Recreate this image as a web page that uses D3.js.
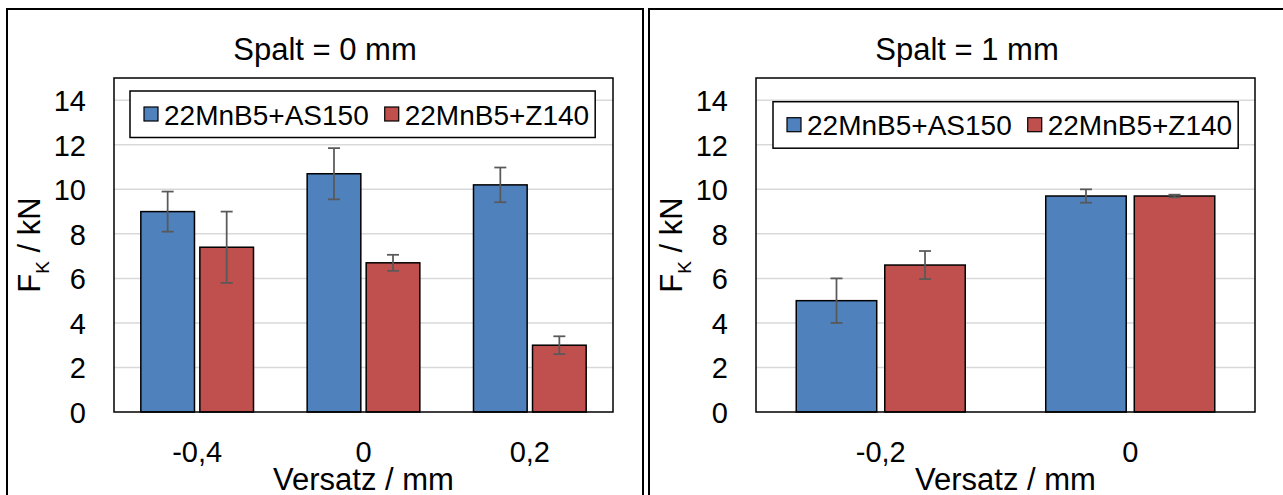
<!DOCTYPE html>
<html>
<head>
<meta charset="utf-8">
<script src="https://cdn.jsdelivr.net/npm/d3@7"></script>
<style>
  html, body { margin: 0; padding: 0; background: #ffffff; }
  svg { display: block; font-family: "Liberation Sans", Arial, sans-serif; }
</style>
</head>
<body>
<svg id="chart" width="1283" height="495"></svg>
<script>
// ---------- data ----------
const seriesNames = ["22MnB5+AS150", "22MnB5+Z140"];
const seriesColors = ["#4f81bd", "#c0504d"];

const titleLeft = "Spalt = 0 mm";
const categoriesLeft = ["-0,4", "0", "0,2"];
const as150Left = [9.0, 10.7, 10.2];
const as150LeftErr = [0.9, 1.15, 0.78];
const z140Left = [7.4, 6.7, 3.0];
const z140LeftErr = [1.6, 0.36, 0.4];

const titleRight = "Spalt = 1 mm";
const categoriesRight = ["-0,2", "0"];
const as150Right = [5.0, 9.7];
const as150RightErr = [1.0, 0.3];
const z140Right = [6.6, 9.7];
const z140RightErr = [0.63, 0.06];

const yTicks = [0, 2, 4, 6, 8, 10, 12, 14];
const yMax = 15;
const xAxisTitle = "Versatz / mm";

// ---------- layout ----------
const svg = d3.select("#chart");
const panelW = 636, panelH = 520;
const plot = { left: 107, right: 606, top: 69, bottom: 403 };

const panels = [
  { ox: 7, oy: 9, title: titleLeft, cats: categoriesLeft,
    vals: [as150Left, z140Left], errs: [as150LeftErr, z140LeftErr],
    legend: { x: 123, y: 82 } },
  { ox: 649, oy: 9, title: titleRight, cats: categoriesRight,
    vals: [as150Right, z140Right], errs: [as150RightErr, z140RightErr],
    legend: { x: 124, y: 92.7 } }
];

panels.forEach(p => {
  const g = svg.append("g").attr("transform", `translate(${p.ox},${p.oy})`);

  // panel frame
  g.append("rect").attr("x", 0).attr("y", 0).attr("width", panelW).attr("height", panelH)
    .attr("fill", "none").attr("stroke", "#000").attr("stroke-width", 2);

  // title
  g.append("text").attr("x", panelW / 2).attr("y", 51)
    .attr("text-anchor", "middle").attr("font-size", 31).attr("fill", "#000")
    .text(p.title);

  const y = d3.scaleLinear().domain([0, yMax]).range([plot.bottom, plot.top]);
  const x0 = d3.scaleBand().domain(p.cats).range([plot.left, plot.right]).paddingInner(0).paddingOuter(0);
  const x1 = d3.scaleBand().domain(seriesNames).range([0, x0.bandwidth()])
    .paddingInner(0.1 / 1.1).paddingOuter(0.4545);

  // gridlines
  g.append("g").selectAll("line").data(yTicks.filter(t => t > 0)).join("line")
    .attr("x1", plot.left).attr("x2", plot.right)
    .attr("y1", d => y(d)).attr("y2", d => y(d))
    .attr("stroke", "#d9d9d9").attr("stroke-width", 1.5);

  // y axis labels
  const yAxis = d3.axisLeft(y).tickValues(yTicks).tickSize(0).tickPadding(28);
  const ya = g.append("g").attr("transform", `translate(${plot.left},0)`).call(yAxis);
  ya.select(".domain").remove();
  ya.selectAll("text").attr("font-size", 29).attr("fill", "#000")
    .attr("font-family", "Liberation Sans, Arial, sans-serif").attr("dy", "0.36em");

  // x axis labels
  const xAxis = d3.axisBottom(x0).tickSize(0).tickPadding(29);
  const xa = g.append("g").attr("transform", `translate(0,${plot.bottom})`).call(xAxis);
  xa.select(".domain").remove();
  xa.selectAll("text").attr("font-size", 29).attr("fill", "#000")
    .attr("font-family", "Liberation Sans, Arial, sans-serif");

  // bars
  seriesNames.forEach((s, si) => {
    const data = p.cats.map((c, i) => ({ c, v: p.vals[si][i], e: p.errs[si][i] }));
    g.append("g").selectAll("rect").data(data).join("rect")
      .attr("x", d => x0(d.c) + x1(s))
      .attr("y", d => y(d.v))
      .attr("width", x1.bandwidth())
      .attr("height", d => y(0) - y(d.v))
      .attr("fill", seriesColors[si]).attr("stroke", "#000").attr("stroke-width", 1.5);

    const eg = g.append("g").attr("stroke", "#595959").attr("stroke-width", 1.75);
    data.forEach(d => {
      const cx = x0(d.c) + x1(s) + x1.bandwidth() / 2;
      eg.append("line").attr("x1", cx).attr("x2", cx).attr("y1", y(d.v + d.e)).attr("y2", y(d.v - d.e));
      eg.append("line").attr("x1", cx - 6).attr("x2", cx + 6).attr("y1", y(d.v + d.e)).attr("y2", y(d.v + d.e));
      eg.append("line").attr("x1", cx - 6).attr("x2", cx + 6).attr("y1", y(d.v - d.e)).attr("y2", y(d.v - d.e));
    });
  });

  // plot border
  g.append("rect").attr("x", plot.left).attr("y", plot.top)
    .attr("width", plot.right - plot.left).attr("height", plot.bottom - plot.top)
    .attr("fill", "none").attr("stroke", "#000").attr("stroke-width", 1.5);

  // y axis title
  const yt = g.append("text")
    .attr("transform", `translate(33,${(plot.top + plot.bottom) / 2}) rotate(-90)`)
    .attr("text-anchor", "middle").attr("font-size", 31).attr("fill", "#000");
  yt.append("tspan").text("F");
  yt.append("tspan").attr("font-size", 19).attr("dy", 9).text("K");
  yt.append("tspan").attr("dy", -9).text(" / kN");

  // x axis title
  g.append("text").attr("x", (plot.left + plot.right) / 2).attr("y", 481)
    .attr("text-anchor", "middle").attr("font-size", 31).attr("fill", "#000")
    .text(xAxisTitle);

  // legend
  const lg = g.append("g").attr("transform", `translate(${p.legend.x},${p.legend.y})`);
  const box = lg.append("rect").attr("x", 0).attr("y", 0).attr("height", 46.5)
    .attr("fill", "#fff").attr("stroke", "#000").attr("stroke-width", 1.5);
  let cx = 14;
  seriesNames.forEach((s, si) => {
    lg.append("rect").attr("x", cx).attr("y", 16).attr("width", 14).attr("height", 14)
      .attr("fill", seriesColors[si]).attr("stroke", "#000").attr("stroke-width", 1.2);
    const t = lg.append("text").attr("x", cx + 20).attr("y", 33.5)
      .attr("font-size", 28).attr("fill", "#000").text(s);
    cx = cx + 20 + t.node().getComputedTextLength() + 16;
  });
  box.attr("width", cx - 10);
});
</script>
</body>
</html>
